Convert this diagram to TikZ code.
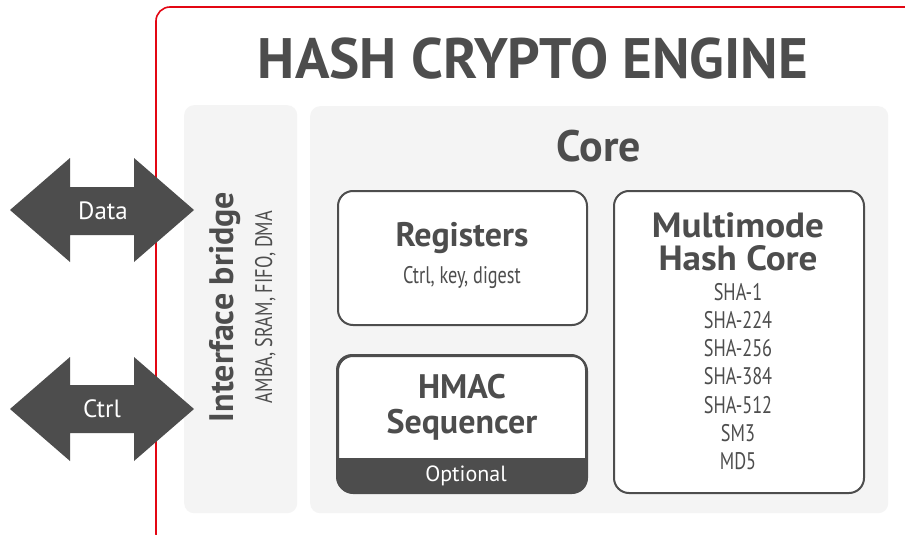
\documentclass[tikz,border=0pt]{standalone}
\usepackage{fontspec}
\setmainfont{PT Sans}
\newfontfamily\condfont[FakeStretch=0.76]{PT Sans}
\newfontfamily\widebold[FakeStretch=1.06]{PT Sans Bold}
\definecolor{ink}{HTML}{4D4D4D}
\definecolor{panelgray}{HTML}{F4F4F4}
\definecolor{framered}{HTML}{E30613}
\begin{document}
\begin{tikzpicture}[x=1pt,y=-1pt,
  panel/.style={fill=panelgray, draw=none, rounded corners=10pt, inner sep=0pt, anchor=north west},
  box/.style={draw=ink, line width=2pt, fill=white, rounded corners=15pt, inner sep=0pt, anchor=north west},
  bigbold/.style={text=ink, font=\bfseries\fontsize{34}{35}\selectfont, anchor=base, inner sep=0pt, align=center},
  hugebold/.style={text=ink, font=\widebold\fontsize{35}{33}\selectfont, anchor=base, inner sep=0pt, align=center},
  small/.style={text=ink, font=\condfont\fontsize{24}{26}\selectfont, anchor=base, inner sep=0pt},
  whitelbl/.style={text=white, font=\fontsize{25}{27}\selectfont, anchor=base, inner sep=0pt},
  arrowshape/.style={fill=ink, draw=none}
]
\useasboundingbox (0,0) rectangle (905,535);
\fill[white] (0,0) rectangle (905,535);
% red frame
\begin{scope}
  \clip (0,0) rectangle (905,535);
  \draw[framered, line width=1.6pt, rounded corners=14pt] (156,7) rectangle (940,548);
\end{scope}
% title
\node[text=ink, font=\bfseries\fontsize{57}{59}\selectfont, anchor=base, inner sep=0pt] (title) at (533,78) {HASH CRYPTO ENGINE};
% panels
\node[panel, minimum width=113pt, minimum height=408pt] (bridge) at (184,105) {};
\node[panel, minimum width=578pt, minimum height=407pt] (core) at (310,106) {};
\node[text=ink, font=\bfseries\fontsize{44}{46}\selectfont, anchor=base, inner sep=0pt] (corelbl) at (599,161) {Core};
% bridge texts
\node[bigbold, rotate=90] (bridgelbl) at (233,307) {Interface bridge};
\node[small, rotate=90] (bridgesub) at (272,307) {AMBA, SRAM, FIFO, DMA};
% registers
\node[box, minimum width=249pt, minimum height=134pt] (reg) at (337,190) {};
\node[bigbold] (regt) at (462,246) {Registers};
\node[small] (regs) at (462,283) {Ctrl, key, digest};
% HMAC
\node[box, minimum width=249pt, minimum height=137pt] (hmac) at (337,355) {};
\begin{scope}
  \clip[rounded corners=15pt] (337,355) rectangle (586,492);
  \fill[ink] (337,458) rectangle (586,492);
\end{scope}
\draw[ink, line width=2pt, rounded corners=15pt] (337,355) rectangle (586,492);
\node[bigbold] (hmact) at (462,433) {HMAC\\Sequencer};
\node[whitelbl, font=\fontsize{22}{24}\selectfont] (opt) at (466,481) {Optional};
% multimode
\node[box, minimum width=250pt, minimum height=302pt] (mm) at (613,190) {};
\node[hugebold] (mm1) at (738,270) {Multimode\\Hash Core};
\node[small] (a1) at (738,300) {SHA-1};
\node[small] (a2) at (738,328.3) {SHA-224};
\node[small] (a3) at (738,356.6) {SHA-256};
\node[small] (a4) at (738,384.9) {SHA-384};
\node[small] (a5) at (738,413.2) {SHA-512};
\node[small] (a6) at (738,441.5) {SM3};
\node[small] (a7) at (738,469.8) {MD5};
% arrows
\fill[arrowshape] (10,210) -- (70,158) -- (70,187) -- (134,187) -- (134,158) -- (194,210) -- (134,262) -- (134,235) -- (70,235) -- (70,262) -- cycle;
\node[whitelbl] (data) at (103,219) {Data};
\fill[arrowshape] (10,409) -- (70,357) -- (70,385) -- (134,385) -- (134,357) -- (194,409) -- (134,461) -- (134,433) -- (70,433) -- (70,461) -- cycle;
\node[whitelbl] (ctrl) at (102,417) {Ctrl};
\end{tikzpicture}
\end{document}
